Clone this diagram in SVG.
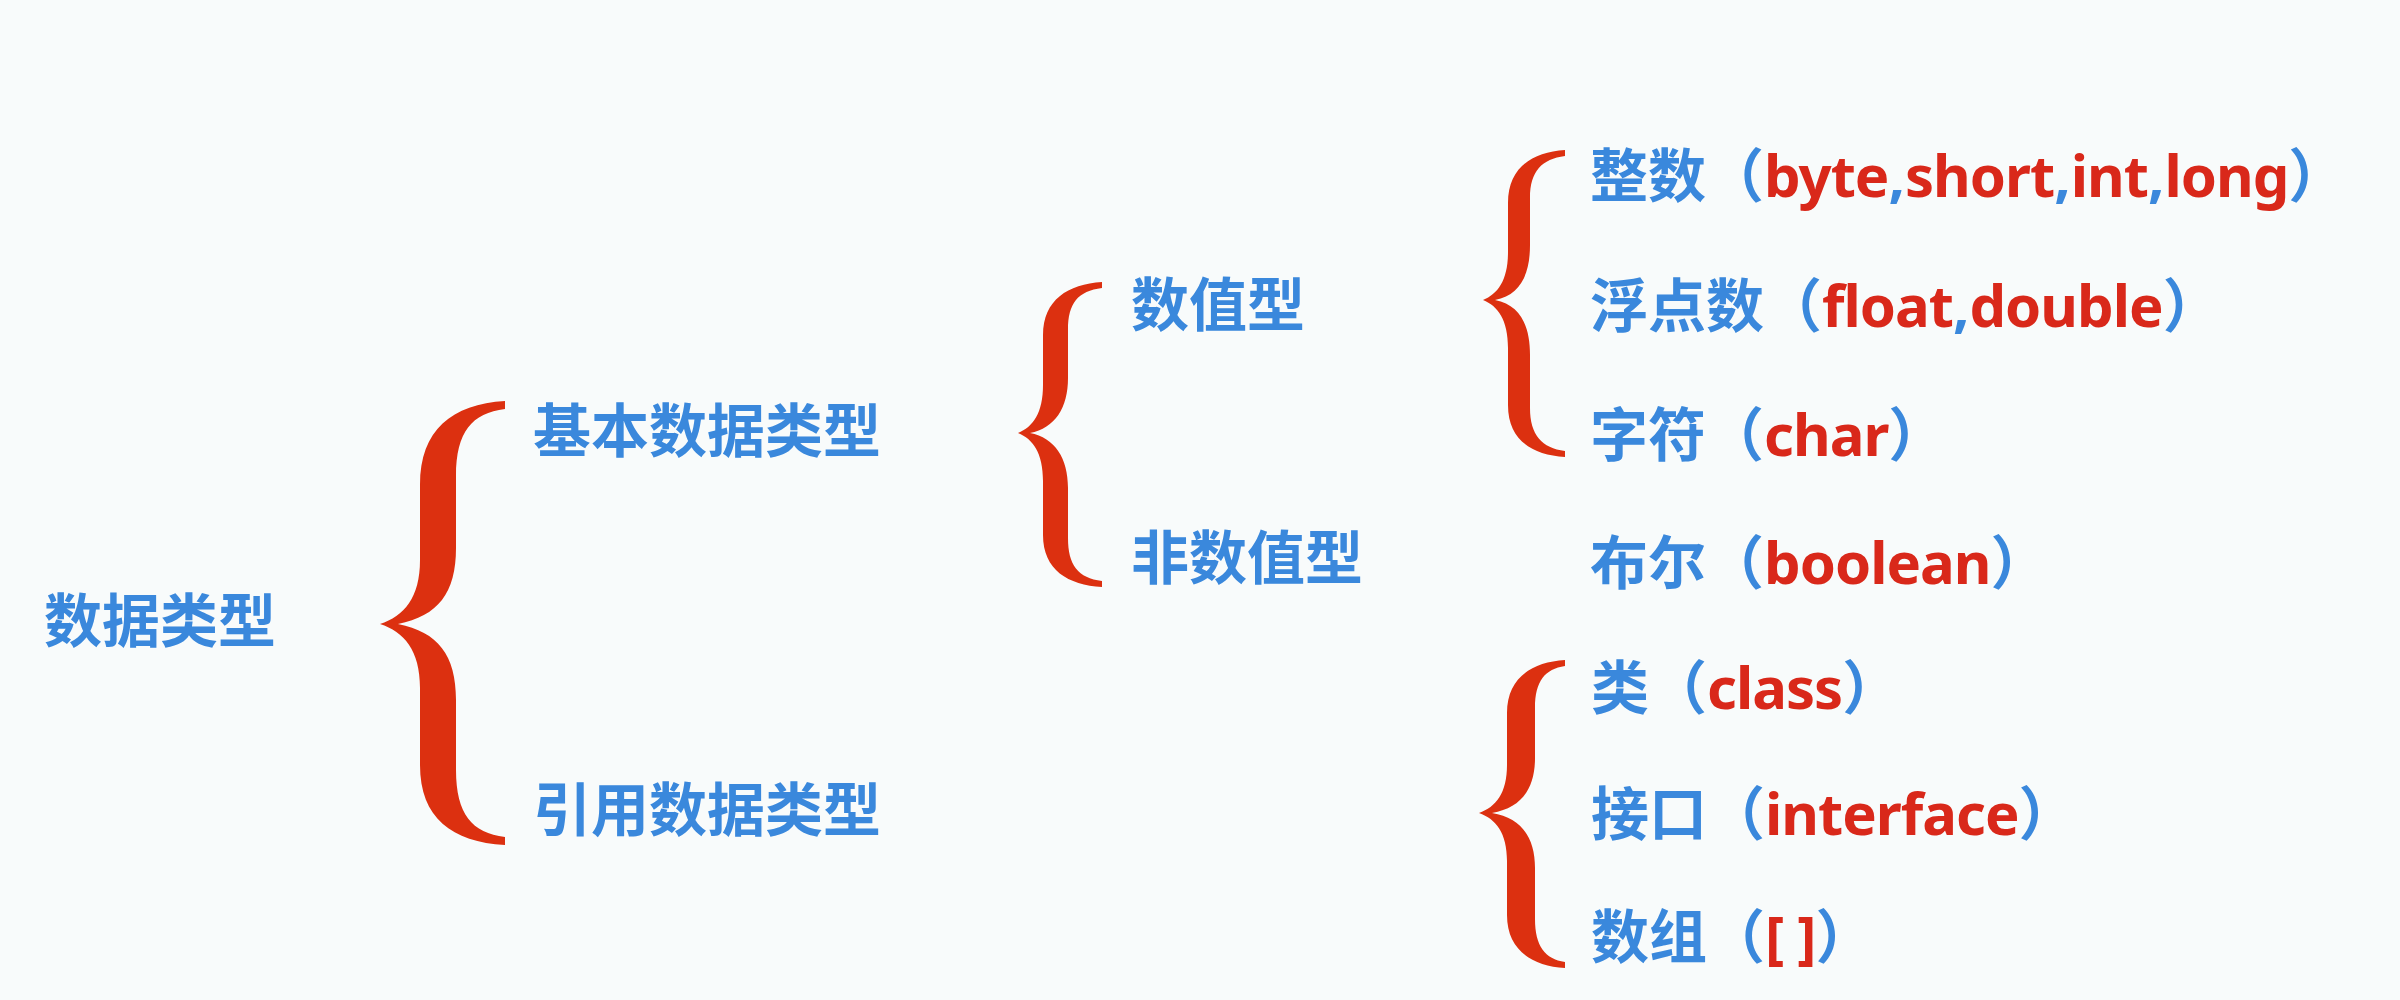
<svg xmlns="http://www.w3.org/2000/svg" width="2400" height="1000" viewBox="0 0 2400 1000">
  <style>
    .t { font-family: "Noto Sans", "Noto Sans CJK SC", sans-serif; font-size: 58px; font-weight: 700; fill: #3a88dc; }
    .r { fill: #d9281a; letter-spacing: -1px; }
    .brace { fill: #dc3010; stroke: none; }
  </style>
  <rect x="0" y="0" width="2400" height="1000" fill="#f8fbfb"/>

  <g id="connectors">
    <path class="brace" d="M 505,401 C 452,404 420,430 420,485 L 420,560 C 420,598 404,616 380,624 C 404,632 420,650 420,688 L 420,765 C 420,818 452,842 505,845 L 505,837 C 472,833 456,814 456,770 L 456,700 C 456,655 438,632 398,624 C 438,616 456,593 456,548 L 456,476 C 456,432 472,413 505,409 Z"/>
    <path class="brace" d="M 1102,282 C 1068,284 1043,300 1043,335 L 1043,385 C 1043,413 1033,427 1018,433 C 1033,439 1043,453 1043,481 L 1043,535 C 1043,570 1068,585 1102,587 L 1102,581 C 1078,578 1068,565 1068,538 L 1068,488 C 1068,458 1055,438 1030,433 C 1055,428 1068,408 1068,378 L 1068,330 C 1068,303 1078,291 1102,288 Z"/>
    <path class="brace" d="M 1565,150 C 1532,152 1508,168 1508,203 L 1508,252 C 1508,280 1498,294 1483,300 C 1498,306 1508,320 1508,348 L 1508,405 C 1508,440 1532,455 1565,457 L 1565,451 C 1542,448 1530,435 1530,408 L 1530,355 C 1530,325 1520,305 1495,300 C 1520,295 1530,275 1530,245 L 1530,198 C 1530,171 1542,159 1565,156 Z"/>
    <path class="brace" d="M 1565,660 C 1532,662 1507,678 1507,713 L 1507,765 C 1507,793 1496,807 1479,813 C 1496,819 1507,833 1507,861 L 1507,915 C 1507,950 1532,966 1565,968 L 1565,962 C 1545,959 1535,946 1535,919 L 1535,868 C 1535,838 1522,818 1492,813 C 1522,808 1535,788 1535,758 L 1535,708 C 1535,681 1545,669 1565,666 Z"/>
  </g>

  <g id="root"><text class="t" x="44" y="642">数据类型</text></g>
  <g id="primitive"><text class="t" x="533" y="452">基本数据类型</text></g>
  <g id="reference"><text class="t" x="533" y="831">引用数据类型</text></g>
  <g id="numeric"><text class="t" x="1131" y="326">数值型</text></g>
  <g id="non-numeric"><text class="t" x="1131" y="579">非数值型</text></g>
  <g id="integer"><text class="t" x="1590" y="197">整数（<tspan class="r">byte</tspan>,<tspan class="r">short</tspan>,<tspan class="r">int</tspan>,<tspan class="r">long</tspan>）</text></g>
  <g id="float"><text class="t" x="1590" y="327">浮点数（<tspan class="r">float</tspan>,<tspan class="r">double</tspan>）</text></g>
  <g id="char"><text class="t" x="1590" y="456">字符（<tspan class="r">char</tspan>）</text></g>
  <g id="boolean"><text class="t" x="1590" y="584">布尔（<tspan class="r">boolean</tspan>）</text></g>
  <g id="class"><text class="t" x="1591" y="709">类（<tspan class="r">class</tspan>）</text></g>
  <g id="interface"><text class="t" x="1591" y="835">接口（<tspan class="r">interface</tspan>）</text></g>
  <g id="array"><text class="t" x="1591" y="958">数组（<tspan class="r">[ ]</tspan>）</text></g>
</svg>
